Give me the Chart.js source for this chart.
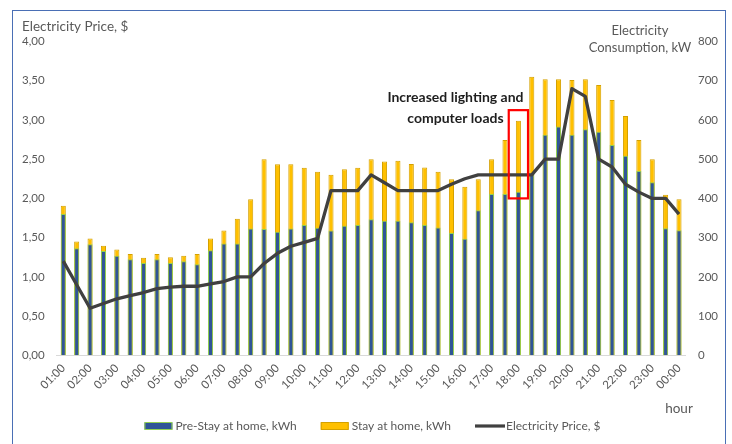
<!DOCTYPE html>
<html><head><meta charset="utf-8">
<script src="https://cdn.jsdelivr.net/npm/chart.js@4/dist/chart.umd.min.js"></script>
<style>
html,body{margin:0;padding:0;background:#fff;}
#wrap{position:relative;width:732px;height:444px;overflow:hidden;}
#frame{position:absolute;left:12px;top:10px;width:714px;height:440px;border:1.5px solid #4A6FB5;border-bottom:none;pointer-events:none;box-sizing:border-box;}
</style></head><body>
<div id="wrap"><canvas id="c" width="732" height="444"></canvas><div id="frame"></div></div>
<script>
const hours = ["01:00","01:30","02:00","02:30","03:00","03:30","04:00","04:30","05:00","05:30",
  "06:00","06:30","07:00","07:30","08:00","08:30","09:00","09:30","10:00","10:30",
  "11:00","11:30","12:00","12:30","13:00","13:30","14:00","14:30","15:00","15:30",
  "16:00","16:30","17:00","17:30","18:00","18:30","19:00","19:30","20:00","20:30",
  "21:00","21:30","22:00","22:30","23:00","23:30","00:00"];
const preStay = [360,273,283,266,254,245,235,245,235,240,
  232,268,285,285,323,322,315,323,332,325,
  318,330,332,347,343,343,339,332,326,312,
  297,370,411,411,417,462,562,583,562,576,
  570,536,509,470,441,324,319];
const stayHome = [381,290,298,279,270,258,249,258,250,254,
  258,298,318,348,398,500,487,487,478,468,
  460,474,478,500,494,496,488,479,468,449,
  430,449,500,549,598,710,704,704,702,704,
  689,651,610,549,500,409,398];
const price = [1.20,0.90,0.60,0.66,0.72,0.76,0.80,0.85,0.87,0.88,
  0.88,0.91,0.94,1.00,1.00,1.17,1.30,1.39,1.44,1.49,
  2.10,2.10,2.10,2.30,2.20,2.10,2.10,2.10,2.10,2.18,
  2.25,2.30,2.30,2.30,2.30,2.30,2.50,2.50,3.40,3.30,
  2.50,2.40,2.18,2.08,2.00,2.00,1.80];
const seriesNames = ["Pre-Stay at home, kWh","Stay at home, kWh","Electricity Price, $"];
const leftTitle = "Electricity Price, $";
const rightTitle = ["Electricity","Consumption, kW"];
const xTitle = "hour";
const noteLines = ["Increased lighting and","computer loads"];
const noteBar = 34;

const FONT = 'Lato, "Open Sans", sans-serif';
const GRAY = '#595959';
Chart.defaults.font.family = FONT;
Chart.defaults.color = GRAY;

const overlay = {
  id: 'overlay',
  afterDraw(chart) {
    const ctx = chart.ctx, x = chart.scales.x, yR = chart.scales.y1;
    ctx.save();
    ctx.fillStyle = GRAY;
    ctx.textBaseline = 'middle';
    ctx.font = '13.5px ' + FONT;
    ctx.textAlign = 'left';
    ctx.fillText(leftTitle, 22, 27);
    ctx.textAlign = 'center';
    ctx.font = '13px ' + FONT;
    ctx.fillText(rightTitle[0], 640, 31);
    ctx.fillText(rightTitle[1], 640, 48);
    ctx.font = '13.5px ' + FONT;
    ctx.fillText(xTitle, 679, 409);
    // annotation
    const step = x.getPixelForValue(1) - x.getPixelForValue(0);
    const bx = x.getPixelForValue(noteBar);
    ctx.strokeStyle = '#FF0000'; ctx.lineWidth = 2.2;
    const top = yR.getPixelForValue(625), bot = yR.getPixelForValue(400);
    ctx.strokeRect(bx - 0.72 * step, top, 1.44 * step, bot - top);
    ctx.font = 'bold 14px ' + FONT; ctx.fillStyle = '#1E1E1E';
    ctx.fillText(noteLines[0], x.getPixelForValue(29.3), yR.getPixelForValue(658));
    ctx.fillText(noteLines[1], x.getPixelForValue(29.3), yR.getPixelForValue(604));
    // legend
    ctx.font = '12px ' + FONT;
    const ds = chart.data.datasets;
    const boxW = 28, gap = 3, space = 24;
    const widths = ds.map(d => ctx.measureText(d.label).width);
    let total = widths.reduce((a, b) => a + b, 0) + ds.length * (boxW + gap) + (ds.length - 1) * space;
    let cx = 372.5 - total / 2;
    const ly = 426;
    ctx.textAlign = 'left';
    ds.forEach((d, i) => {
      if (d.type === 'line') {
        ctx.strokeStyle = d.borderColor; ctx.lineWidth = 3.2;
        ctx.beginPath(); ctx.moveTo(cx, ly); ctx.lineTo(cx + boxW + 2, ly); ctx.stroke();
      } else {
        ctx.fillStyle = d.backgroundColor;
        ctx.fillRect(cx, ly - 3.5, boxW, 7);
        ctx.strokeStyle = d.borderColor; ctx.lineWidth = 1;
        ctx.strokeRect(cx + 0.5, ly - 3.5, boxW - 1, 7);
      }
      ctx.fillStyle = GRAY;
      ctx.fillText(d.label, cx + boxW + gap, ly);
      cx += boxW + gap + widths[i] + space;
    });
    ctx.restore();
  }
};

new Chart(document.getElementById('c'), {
  data: {
    labels: hours,
    datasets: [
      { type: 'bar', label: seriesNames[0], data: preStay, yAxisID: 'y1', order: 1,
        backgroundColor: '#2F5597', borderColor: '#92D050', borderWidth: 1,
        grouped: false, barPercentage: 0.38, categoryPercentage: 1 },
      { type: 'bar', label: seriesNames[1], data: stayHome, yAxisID: 'y1', order: 2,
        backgroundColor: '#FFC000', borderColor: '#D4A100', borderWidth: 1,
        grouped: false, barPercentage: 0.38, categoryPercentage: 1 },
      { type: 'line', label: seriesNames[2], data: price, yAxisID: 'y', order: 0,
        borderColor: '#404040', backgroundColor: '#404040', borderWidth: 3.3,
        pointRadius: 0, tension: 0, borderJoinStyle: 'round' }
    ]
  },
  options: {
    responsive: false,
    animation: false,
    layout: { padding: { left: 22, right: 0, top: 41.5, bottom: 43.7 } },
    plugins: { legend: { display: false }, tooltip: { enabled: false } },
    scales: {
      x: {
        offset: true,
        grid: { display: false, drawTicks: false },
        border: { display: true, color: '#D9D9D9', width: 1 },
        ticks: { autoSkip: false, maxRotation: 45, minRotation: 45, padding: 6,
          font: { size: 11.5 }, color: GRAY,
          callback: (v, i) => (i % 2 === 0 ? hours[i] : '') },
        afterFit: s => { s.height = 45; }
      },
      y: {
        position: 'left', min: 0, max: 4,
        grid: { display: false, drawTicks: false },
        border: { display: false },
        ticks: { stepSize: 0.5, crossAlign: 'far', padding: 0, font: { size: 11.5 }, color: GRAY,
          callback: v => Number(v).toFixed(2).replace('.', ',') },
        afterFit: s => { s.width = 34.6; }
      },
      y1: {
        position: 'right', min: 0, max: 800,
        grid: { display: false, drawTicks: false },
        border: { display: false },
        ticks: { stepSize: 100, crossAlign: 'near', padding: 12.3, font: { size: 11.5 }, color: GRAY },
        afterFit: s => { s.width = 46.3; }
      }
    }
  },
  plugins: [overlay]
});
</script>
</body></html>
